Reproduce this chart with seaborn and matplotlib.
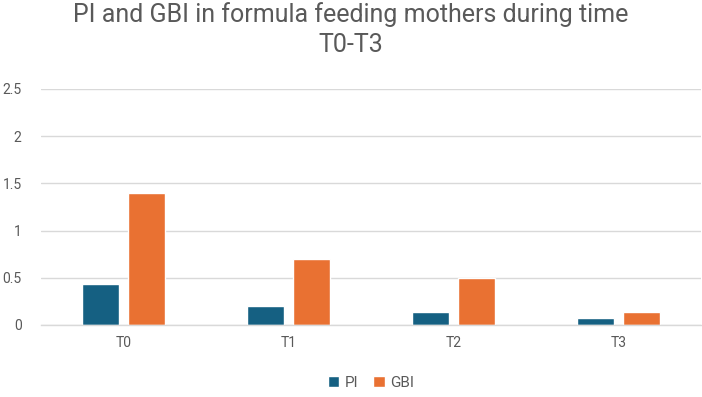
import matplotlib
matplotlib.use("Agg")
import matplotlib.pyplot as plt
import seaborn as sns
import pandas as pd

categories = ["T0", "T1", "T2", "T3"]
pi_values = [0.43, 0.20, 0.14, 0.07]
gbi_values = [1.40, 0.70, 0.50, 0.14]
series_names = ["PI", "GBI"]
y_ticks = [0, 0.5, 1, 1.5, 2, 2.5]
y_tick_labels = ["0", "0.5", "1", "1.5", "2", "2.5"]

df = pd.DataFrame({
    "Time": categories * 2,
    "Series": [series_names[0]] * 4 + [series_names[1]] * 4,
    "Value": pi_values + gbi_values,
})

sns.set_theme(style="white")
plt.rcParams["font.family"] = ["Roboto", "DejaVu Sans"]

fig = plt.figure(figsize=(7.02, 3.97), dpi=100)
ax = fig.add_axes([41 / 702, (397 - 325) / 397, 660 / 702, (325 - 89) / 397])

sns.barplot(data=df, x="Time", y="Value", hue="Series",
            palette=["#156082", "#E97132"], width=0.56, gap=0.2,
            saturation=1, ax=ax, legend=True)

ax.set_ylim(0, 2.5)
ax.set_xlim(-0.5, 3.5)
ax.set_yticks(y_ticks)
ax.set_yticklabels(y_tick_labels)
ax.grid(axis="y", color="#d9d9d9", linewidth=1)
ax.set_axisbelow(True)
for s in ["top", "right", "left"]:
    ax.spines[s].set_visible(False)
ax.spines["bottom"].set_color("#d9d9d9")
ax.spines["bottom"].set_linewidth(1)
ax.tick_params(axis="both", length=0, colors="#595959", labelsize=10)
ax.tick_params(axis="y", pad=14)
ax.tick_params(axis="x", pad=8)
ax.set_xlabel("")
ax.set_ylabel("")

fig.text(0.5, 0.995, "PI and GBI in formula feeding mothers during time\nT0-T3",
         ha="center", va="top", fontsize=18, color="#595959",
         family=["Roboto", "DejaVu Sans"], linespacing=1.3)

handles, labels = ax.get_legend_handles_labels()
ax.legend(handles, labels, loc="center", bbox_to_anchor=(0.5, -0.245),
          ncol=2, frameon=False, fontsize=11, handlelength=0.75,
          handleheight=0.75, handletextpad=0.35, columnspacing=1.0,
          labelcolor="#595959")

fig.savefig("out.png", dpi=100)
